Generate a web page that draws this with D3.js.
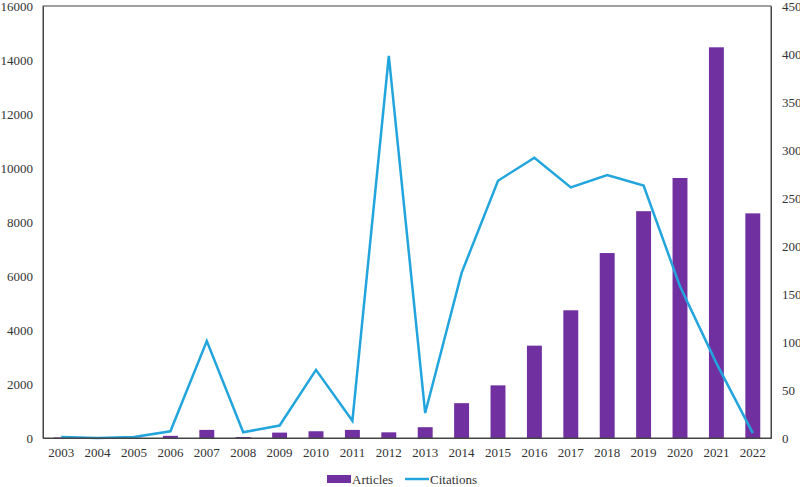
<!DOCTYPE html>
<html>
<head>
<meta charset="utf-8">
<script src="https://cdn.jsdelivr.net/npm/d3@7"></script>
<style>
  html, body { margin: 0; padding: 0; background: #fff; }
  svg { display: block; }
  text { font-family: "Liberation Serif", "Times New Roman", serif; fill: #333; }
</style>
</head>
<body>
<div id="chart"></div>
<script>
const years = ["2003","2004","2005","2006","2007","2008","2009","2010","2011","2012","2013","2014","2015","2016","2017","2018","2019","2020","2021","2022"];
const articles = [20, 5, 10, 80, 300, 35, 200, 250, 300, 210, 400, 1290, 1950, 3420, 4730, 6850, 8400, 9630, 14470, 8320];
const citations = [1, 0, 1, 7, 101, 6, 13, 71, 18, 398, 26, 172, 268, 292, 261, 274, 263, 158, 78, 5];
const leftTicks = [0, 2000, 4000, 6000, 8000, 10000, 12000, 14000, 16000];
const rightTicks = [0, 50, 100, 150, 200, 250, 300, 350, 400, 450];
const seriesNames = ["Articles", "Citations"];

const W = 800, H = 487;
const m = { left: 43, right: 29, top: 6, bottom: 49 };
const iw = W - m.left - m.right, ih = H - m.top - m.bottom;

const svg = d3.select("#chart").append("svg").attr("width", W).attr("height", H);
const g = svg.append("g").attr("transform", `translate(${m.left},${m.top})`);

const x = d3.scaleBand().domain(years).range([0, iw]).paddingInner(0.59).paddingOuter(0.295);
const yL = d3.scaleLinear().domain([0, 16000]).range([ih, 0]);
const yR = d3.scaleLinear().domain([0, 450]).range([ih, 0]);

const barColor = "#7030A0", lineColor = "#22A5DD", axisColor = "#444";

// bars
g.selectAll("rect.bar").data(years).enter().append("rect")
  .attr("class", "bar")
  .attr("x", d => x(d))
  .attr("width", x.bandwidth())
  .attr("y", (d, i) => yL(articles[i]))
  .attr("height", (d, i) => ih - yL(articles[i]))
  .attr("fill", barColor);

// line
const line = d3.line()
  .x((d, i) => x(years[i]) + x.bandwidth() / 2)
  .y(d => yR(d));
g.append("path").datum(citations)
  .attr("d", line)
  .attr("fill", "none")
  .attr("stroke", lineColor)
  .attr("stroke-width", 2.5)
  .attr("stroke-linejoin", "miter");

// frame
g.append("rect").attr("x", 0).attr("y", 0).attr("width", iw).attr("height", ih)
  .attr("fill", "none").attr("stroke", axisColor).attr("stroke-width", 1);

// axes
const axL = g.append("g").call(d3.axisLeft(yL).tickValues(leftTicks).tickSize(0).tickPadding(10).tickFormat(d3.format("d")));
const axR = g.append("g").attr("transform", `translate(${iw},0)`)
  .call(d3.axisRight(yR).tickValues(rightTicks).tickSize(0).tickPadding(11).tickFormat(d3.format("d")));
const axB = g.append("g").attr("transform", `translate(0,${ih})`)
  .call(d3.axisBottom(x).tickSize(0).tickPadding(10));
[axL, axR, axB].forEach(a => {
  a.select(".domain").attr("stroke", axisColor);
  a.selectAll("text").attr("font-size", 13).attr("font-family", "Liberation Serif, Times New Roman, serif").attr("fill", "#333");
});

// legend
const leg = svg.append("g").attr("transform", `translate(0,479)`);
leg.append("rect").attr("x", 327).attr("y", -4).attr("width", 24).attr("height", 8).attr("fill", barColor);
leg.append("text").attr("x", 352).attr("y", 0).attr("dy", "0.35em").attr("font-size", 13).text(seriesNames[0]);
leg.append("line").attr("x1", 405).attr("x2", 429).attr("y1", 0).attr("y2", 0).attr("stroke", lineColor).attr("stroke-width", 2.5);
leg.append("text").attr("x", 430).attr("y", 0).attr("dy", "0.35em").attr("font-size", 13).text(seriesNames[1]);
</script>
</body>
</html>
